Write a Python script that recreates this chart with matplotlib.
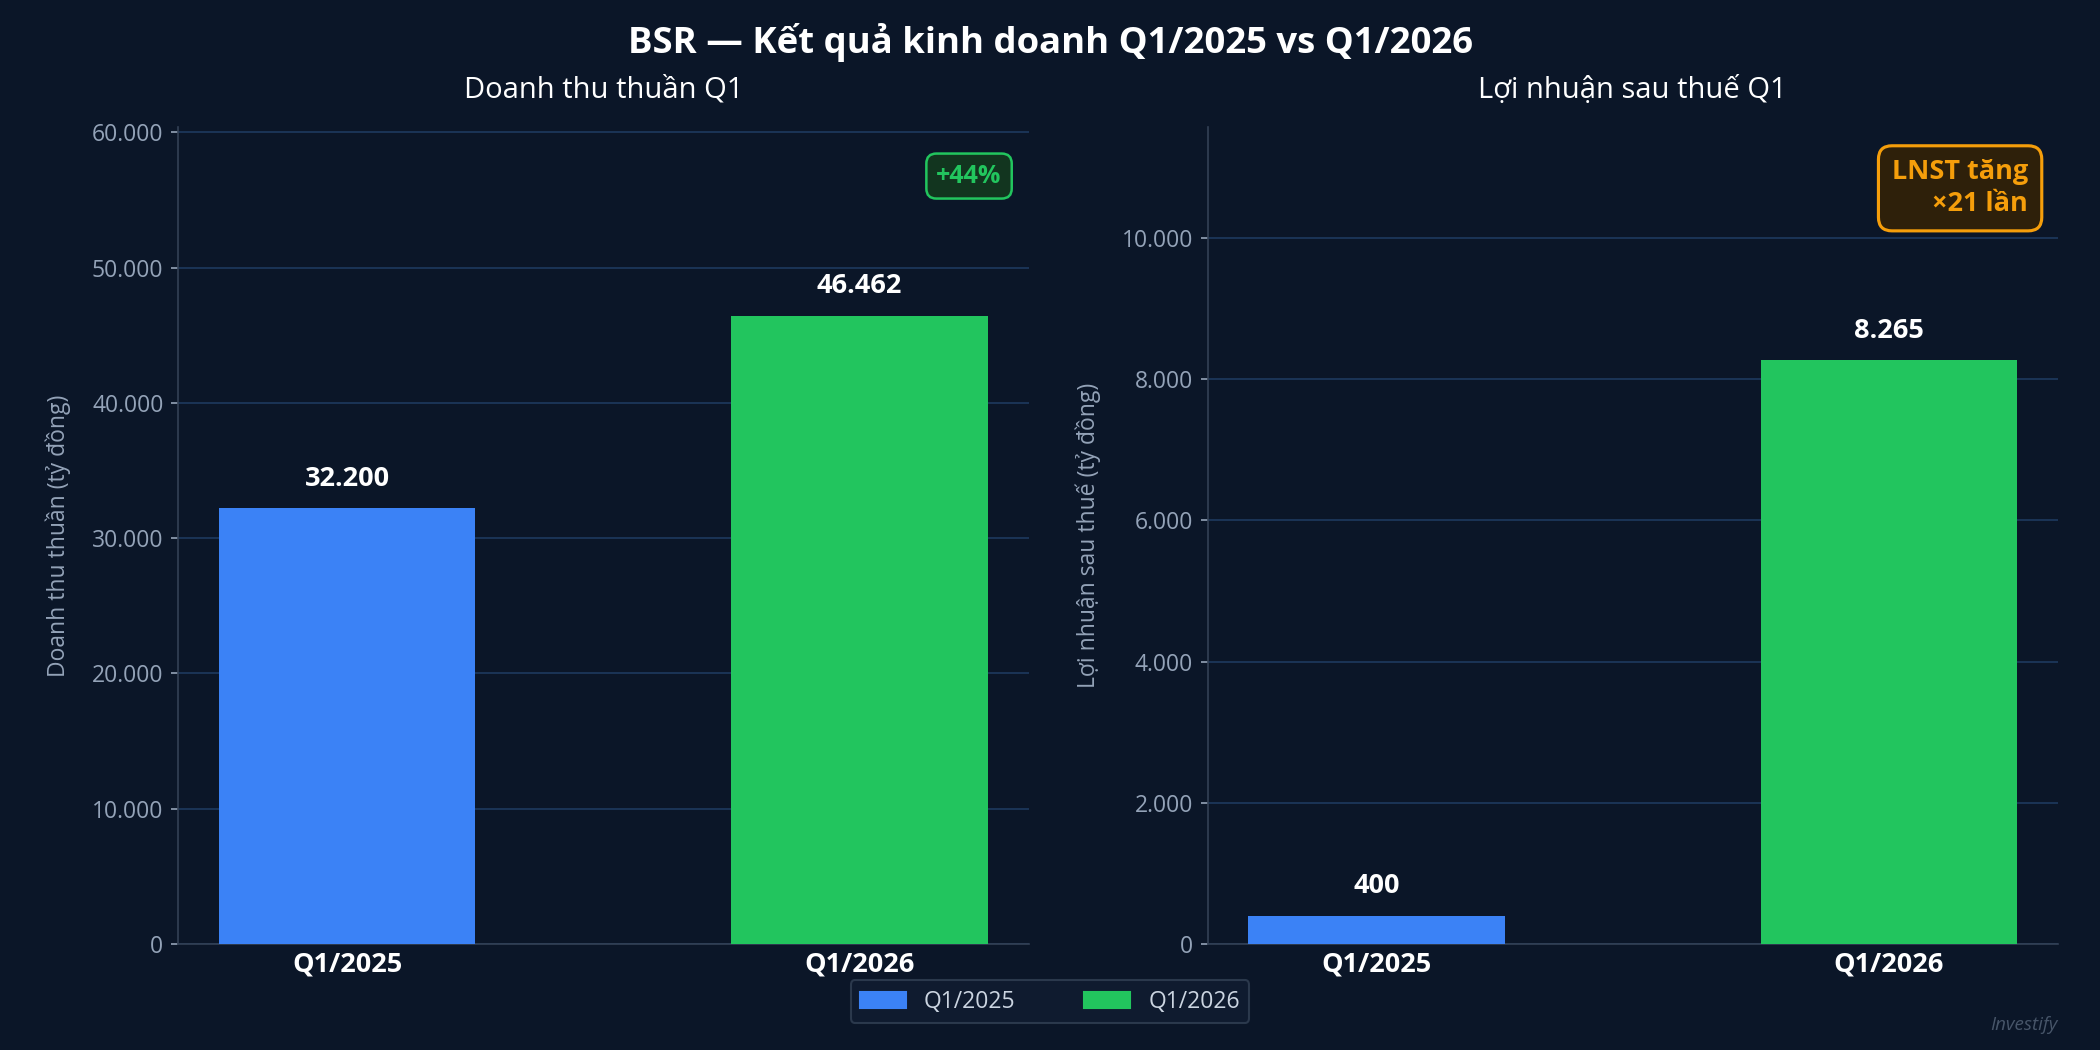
import matplotlib
matplotlib.use('Agg')
import matplotlib.pyplot as plt
from matplotlib.patches import Patch

# data
quarters = ['Q1/2025', 'Q1/2026']
revenue = [32200, 46462]
profit = [400, 8265]
colors = ['#3b82f6', '#22c55e']

BG = '#0b1628'
GRID = '#1e3a5f'
TXT = '#94a3b8'

plt.rcParams['font.family'] = ['Open Sans', 'Noto Sans', 'DejaVu Sans']


def fmt(v):
    return f"{v:,.0f}".replace(',', '.')


fig = plt.figure(figsize=(14, 7), dpi=150, facecolor=BG)
ax1 = fig.add_axes([0.0848, 0.101, 0.405, 0.778])
ax2 = fig.add_axes([0.575, 0.101, 0.405, 0.778])

for ax, vals, title, ylabel in [
    (ax1, revenue, 'Doanh thu thuần Q1', 'Doanh thu thuần (tỷ đồng)'),
    (ax2, profit, 'Lợi nhuận sau thuế Q1', 'Lợi nhuận sau thuế (tỷ đồng)'),
]:
    ax.set_facecolor(BG)
    ax.bar(range(len(quarters)), vals, width=0.5, color=colors, zorder=3)
    ax.set_xlim(-0.33, 1.33)
    ax.set_ylim(0, max(vals) * (1.3 if ax is ax1 else 1.4))
    ax.set_xticks(range(len(quarters)))
    ax.set_xticklabels(quarters, fontsize=13, fontweight='bold', color='white')
    ax.yaxis.set_major_formatter(plt.FuncFormatter(lambda v, p: fmt(v)))
    ax.tick_params(axis='y', colors=TXT, labelsize=11)
    ax.tick_params(axis='x', length=0)
    ax.grid(axis='y', color=GRID, linewidth=0.8, zorder=0)
    ax.set_axisbelow(True)
    for s in ['top', 'right']:
        ax.spines[s].set_visible(False)
    for s in ['left', 'bottom']:
        ax.spines[s].set_color('#334155')
    ax.set_title(title, color='white', fontsize=14, pad=14)
    ax.set_ylabel(ylabel, color=TXT, fontsize=11, labelpad=10)
    top = ax.get_ylim()[1]
    for i, v in enumerate(vals):
        ax.text(i, v + top * 0.02, fmt(v), ha='center', va='bottom',
                color='white', fontsize=13, fontweight='bold')

ax1.text(0.93, 0.94, '+44%', transform=ax1.transAxes, ha='center', va='center',
         color='#22c55e', fontsize=12, fontweight='bold',
         bbox=dict(boxstyle='round,pad=0.4', fc='#12351f', ec='#22c55e', lw=1.2))
ax2.text(0.965, 0.925, 'LNST tăng\n×21 lần', transform=ax2.transAxes, ha='right', va='center',
         color='#f59e0b', fontsize=13, fontweight='bold', linespacing=1.3,
         bbox=dict(boxstyle='round,pad=0.5', fc='#2e200a', ec='#f59e0b', lw=1.5))

fig.suptitle('BSR — Kết quả kinh doanh Q1/2025 vs Q1/2026', color='white',
             fontsize=17.5, fontweight='bold', y=0.978)

handles = [Patch(color=c, label=q) for c, q in zip(colors, quarters)]
leg = fig.legend(handles=handles, loc='lower center', ncol=2, bbox_to_anchor=(0.5, 0.015),
                 frameon=True, fontsize=11, facecolor='#111d31', edgecolor='#334155',
                 labelcolor='#cbd5e1', columnspacing=3)

fig.text(0.98, 0.015, 'Investify', ha='right', va='bottom', color='#475569',
         fontsize=9, style='italic')

fig.savefig('out.png', facecolor=BG)
